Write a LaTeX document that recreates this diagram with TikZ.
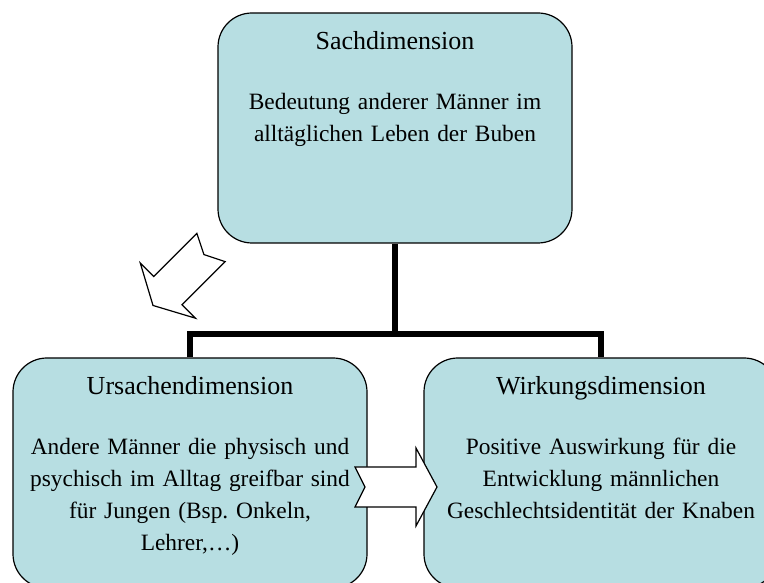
\documentclass[tikz,border=0pt]{standalone}
\usepackage{fontspec}
\setmainfont{Liberation Serif}
\usetikzlibrary{positioning}
\frenchspacing

\definecolor{boxcyan}{RGB}{183,222,226}
\newcommand{\dimtitle}[1]{{\fontsize{26}{32}\selectfont #1}}

\begin{document}
\begin{tikzpicture}[
    x=1pt, y=1pt,
    % Dimension box style
    dimbox/.style={rectangle, rounded corners=34pt, draw=black, line width=1.2pt, fill=boxcyan,
        minimum width=354pt, text width=346pt, inner xsep=4pt, inner ysep=0pt, align=center,
        text height=37pt, text depth=193pt, font=\fontsize{23.4}{32}\selectfont},
    % Tree connector style
    branch/.style={black, line width=5.5pt, line join=miter},
    % Block arrow style
    bigarrow/.style={draw=black, fill=white, line width=1.2pt, line join=miter}
]

    % === FRAME ===
    \useasboundingbox (0,0) rectangle (764,583);
    \clip (0,0) rectangle (764,583);

    % === BOXES ===
    \node[dimbox] (sach) at (395,455) {\dimtitle{Sachdimension}\\[28pt]Bedeutung anderer Männer im\\alltäglichen Leben der Buben};
    \node[dimbox] (ursache) at (190,110) {\dimtitle{Ursachendimension}\\[28pt]Andere Männer die physisch und\\psychisch im Alltag greifbar sind\\für Jungen (Bsp. Onkeln,\\Lehrer,…)};
    \node[dimbox] (wirkung) at (601,110) {\dimtitle{Wirkungsdimension}\\[28pt]Positive Auswirkung für die\\Entwicklung männlichen\\Geschlechtsidentität der Knaben};

    % === CONNECTORS ===
    \coordinate (bus) at (395,249);
    \draw[branch] (sach.south) -- (bus);
    \draw[branch] (ursache.north) |- (bus) -| (wirkung.north);

    % === BLOCK ARROWS ===
    % Diagonal arrow (down left)
    \begin{scope}[shift={(211,335.5)}, rotate=225]
        \draw[bigarrow] (0,20) -- (61,20) -- (61,39) -- (82,0) -- (61,-39) -- (61,-20) -- (0,-20) -- (10,0) -- cycle;
    \end{scope}

    % Horizontal arrow (cause to effect)
    \begin{scope}[shift={(355,96)}]
        \draw[bigarrow] (0,20) -- (61,20) -- (61,39) -- (82,0) -- (61,-39) -- (61,-20) -- (0,-20) -- (10,0) -- cycle;
    \end{scope}

\end{tikzpicture}
\end{document}
